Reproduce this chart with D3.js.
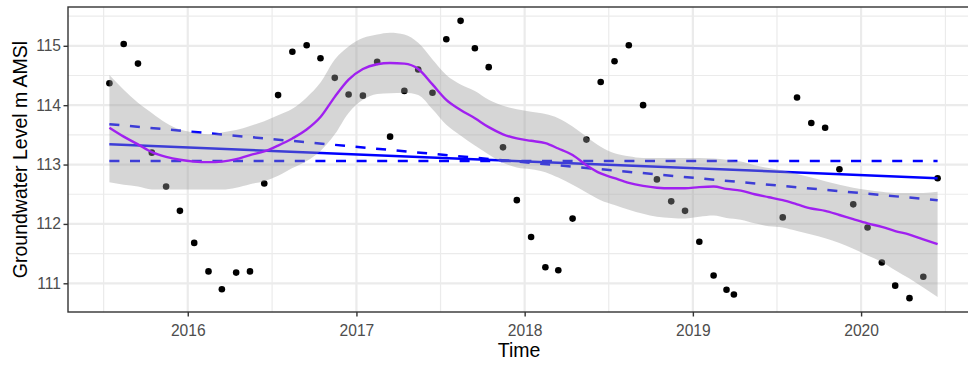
<!DOCTYPE html>
<html>
<head>
<meta charset="utf-8">
<script src="https://cdn.jsdelivr.net/npm/d3@7"></script>
<style>
  html, body { margin: 0; padding: 0; background: #fff; }
  svg { display: block; font-family: "Liberation Sans", Arial, sans-serif; }
</style>
</head>
<body>
<svg id="chart" width="968" height="365"></svg>
<script>
// observations (mid-month readings)
const obsDates = [
  '2015-07-15', '2015-08-15', '2015-09-15', '2015-10-15', '2015-11-15', '2015-12-15',
  '2016-01-15', '2016-02-15', '2016-03-15', '2016-04-15', '2016-05-15', '2016-06-15',
  '2016-07-15', '2016-08-15', '2016-09-15', '2016-10-15', '2016-11-15', '2016-12-15',
  '2017-01-15', '2017-02-15', '2017-03-15', '2017-04-15', '2017-05-15', '2017-06-15',
  '2017-07-15', '2017-08-15', '2017-09-15', '2017-10-15', '2017-11-15', '2017-12-15',
  '2018-01-15', '2018-02-15', '2018-03-15', '2018-04-15', '2018-05-15', '2018-06-15',
  '2018-07-15', '2018-08-15', '2018-09-15', '2018-10-15', '2018-11-15', '2018-12-15',
  '2019-01-15', '2019-02-15', '2019-03-15', '2019-03-31', '2019-07-15', '2019-08-15',
  '2019-09-15', '2019-10-15', '2019-11-15', '2019-12-15',
  '2020-01-15', '2020-02-15', '2020-03-15', '2020-04-15', '2020-05-15', '2020-06-15'
]
const obsLevels = [
  114.37, 115.03, 114.70, 113.20, 112.63, 112.22,
  111.68, 111.20, 110.90, 111.18, 111.20, 112.68,
  114.17, 114.90, 115.01, 114.79, 114.46, 114.18,
  114.16, 114.73, 113.47, 114.24, 114.60, 114.21,
  115.11, 115.42, 114.96, 114.64, 113.29, 112.40,
  111.78, 111.27, 111.22, 112.09, 113.42, 114.39,
  114.74, 115.01, 114.00, 112.75, 112.38, 112.22,
  111.70, 111.13, 110.89, 110.81, 112.11, 114.13,
  113.70, 113.62, 112.92, 112.33,
  111.94, 111.35, 110.96, 110.75, 111.11, 112.77
]

// loess smooth + confidence band, read at each month
const smoothMonths = [
  '2015-07', '2015-08', '2015-09', '2015-10', '2015-11', '2015-12',
  '2016-01', '2016-02', '2016-03', '2016-04', '2016-05', '2016-06',
  '2016-07', '2016-08', '2016-09', '2016-10', '2016-11', '2016-12',
  '2017-01', '2017-02', '2017-03', '2017-04', '2017-05', '2017-06',
  '2017-07', '2017-08', '2017-09', '2017-10', '2017-11', '2017-12',
  '2018-01', '2018-02', '2018-03', '2018-04', '2018-05', '2018-06',
  '2018-07', '2018-08', '2018-09', '2018-10', '2018-11', '2018-12',
  '2019-01', '2019-02', '2019-03', '2019-04', '2019-05', '2019-06',
  '2019-07', '2019-08', '2019-09', '2019-10', '2019-11', '2019-12',
  '2020-01', '2020-02', '2020-03', '2020-04', '2020-05', '2020-06'
]
const smoothFit = [
  113.62, 113.47, 113.34, 113.21, 113.13, 113.08,
  113.05, 113.04, 113.05, 113.09, 113.16, 113.22,
  113.32, 113.44, 113.59, 113.80, 114.14, 114.43,
  114.61, 114.69, 114.71, 114.70, 114.61, 114.35,
  114.09, 113.92, 113.78, 113.63, 113.51, 113.44,
  113.40, 113.36, 113.27, 113.16, 112.99, 112.85,
  112.77, 112.69, 112.64, 112.61, 112.60, 112.60,
  112.62, 112.63, 112.59, 112.56, 112.50, 112.45,
  112.40, 112.33, 112.26, 112.22, 112.15, 112.08,
  112.01, 111.95, 111.88, 111.82, 111.74, 111.66
]
const smoothUpper = [
  114.51, 114.26, 114.04, 113.87, 113.70, 113.59,
  113.54, 113.51, 113.54, 113.58, 113.65, 113.73,
  113.83, 113.94, 114.13, 114.38, 114.77, 114.99,
  115.13, 115.19, 115.22, 115.19, 115.05, 114.77,
  114.51, 114.35, 114.24, 114.09, 113.99, 113.93,
  113.89, 113.85, 113.78, 113.64, 113.47, 113.30,
  113.19, 113.14, 113.11, 113.11, 113.11, 113.11,
  113.11, 113.10, 113.08, 113.05, 112.99, 112.94,
  112.90, 112.84, 112.78, 112.72, 112.66, 112.61,
  112.57, 112.54, 112.52, 112.52, 112.52, 112.54
]
const smoothLower = [
  112.70, 112.66, 112.63, 112.58, 112.58, 112.58,
  112.58, 112.58, 112.58, 112.61, 112.67, 112.72,
  112.81, 112.94, 113.06, 113.23, 113.51, 113.87,
  114.09, 114.19, 114.20, 114.21, 114.17, 113.93,
  113.67, 113.49, 113.32, 113.17, 113.03, 112.95,
  112.92, 112.87, 112.78, 112.66, 112.53, 112.40,
  112.32, 112.24, 112.17, 112.12, 112.10, 112.09,
  112.12, 112.14, 112.10, 112.07, 112.01, 111.96,
  111.94, 111.88, 111.82, 111.76, 111.68, 111.58,
  111.47, 111.36, 111.22, 111.08, 110.93, 110.77
]

// linear trend and its slope bounds, at first and last observation
const trendDates = ['2015-07-15', '2020-06-15']
const trendFit = [113.34, 112.77]
const trendSlopeLow = [113.68, 112.40]
const trendSlopeHigh = [113.06, 113.06]

const xTickLabels = ['2016', '2017', '2018', '2019', '2020']
const yTicks = [111, 112, 113, 114, 115]

const parseDay = d3.timeParse('%Y-%m-%d')
const parseMonth = s => parseDay(s + '-15')

const points = obsDates.map((d, i) => ({ date: parseDay(d), value: obsLevels[i] }))
const smooth = smoothMonths.map((m, i) => ({
  date: parseMonth(m), fit: smoothFit[i], hi: smoothUpper[i], lo: smoothLower[i]
}))
const trend = trendDates.map((d, i) => ({
  date: parseDay(d), fit: trendFit[i], low: trendSlopeLow[i], high: trendSlopeHigh[i]
}))

const panel = { left: 68, right: 979, top: 7, bottom: 312 }

// ggplot-style 5% expansion
function expand([a, b], f = 0.05) {
  const pad = (b - a) * f
  return [a - pad, b + pad]
}

const tExt = d3.extent(points, d => +d.date)
const x = d3.scaleTime()
  .domain(expand(tExt).map(t => new Date(t)))
  .range([panel.left, panel.right])

const allY = obsLevels.concat(smoothUpper, smoothLower, trendSlopeLow, trendSlopeHigh)
const y = d3.scaleLinear()
  .domain(expand(d3.extent(allY)))
  .range([panel.bottom, panel.top])

const svg = d3.select('#chart')

svg.append('defs').append('clipPath').attr('id', 'clip')
  .append('rect')
  .attr('x', panel.left).attr('y', panel.top)
  .attr('width', panel.right - panel.left).attr('height', panel.bottom - panel.top)

// grid
const grid = svg.append('g').attr('clip-path', 'url(#clip)')
const majorX = xTickLabels.map(s => new Date(+s, 0, 1))
const allYears = d3.range(2015, 2022).map(yr => new Date(yr, 0, 1))
const minorX = allYears.slice(1).map((d, i) => new Date((+d + +allYears[i]) / 2))
const minorY = d3.range(110.5, 116, 1)

grid.selectAll('.minx').data(minorX).join('line')
  .attr('x1', d => x(d)).attr('x2', d => x(d))
  .attr('y1', panel.top).attr('y2', panel.bottom)
  .attr('stroke', '#ebebeb').attr('stroke-width', 1.2)
grid.selectAll('.miny').data(minorY).join('line')
  .attr('x1', panel.left).attr('x2', panel.right)
  .attr('y1', d => y(d)).attr('y2', d => y(d))
  .attr('stroke', '#ebebeb').attr('stroke-width', 1.2)
grid.selectAll('.majx').data(majorX).join('line')
  .attr('x1', d => x(d)).attr('x2', d => x(d))
  .attr('y1', panel.top).attr('y2', panel.bottom)
  .attr('stroke', '#ebebeb').attr('stroke-width', 2.2)
grid.selectAll('.majy').data(yTicks).join('line')
  .attr('x1', panel.left).attr('x2', panel.right)
  .attr('y1', d => y(d)).attr('y2', d => y(d))
  .attr('stroke', '#ebebeb').attr('stroke-width', 2.2)

const plot = svg.append('g').attr('clip-path', 'url(#clip)')

// observations
plot.append('g').selectAll('circle')
  .data(points)
  .join('circle')
  .attr('cx', d => x(d.date))
  .attr('cy', d => y(d.value))
  .attr('r', 3.3)
  .attr('fill', '#000')

// trend lines
const trendLine = key => d3.line().x(d => x(d.date)).y(d => y(d[key]))
plot.append('path').datum(trend)
  .attr('d', trendLine('fit'))
  .attr('fill', 'none').attr('stroke', 'blue').attr('stroke-width', 2.5)
for (const key of ['low', 'high']) {
  plot.append('path').datum(trend)
    .attr('d', trendLine(key))
    .attr('fill', 'none').attr('stroke', 'blue').attr('stroke-width', 2.5)
    .attr('stroke-dasharray', '10,10.6')
}

// confidence band
plot.append('path').datum(smooth)
  .attr('d', d3.area().curve(d3.curveMonotoneX)
    .x(d => x(d.date)).y0(d => y(d.lo)).y1(d => y(d.hi)))
  .attr('fill', '#999999').attr('fill-opacity', 0.4)

// loess line
plot.append('path').datum(smooth)
  .attr('d', d3.line().curve(d3.curveMonotoneX).x(d => x(d.date)).y(d => y(d.fit)))
  .attr('fill', 'none').attr('stroke', '#a020f0').attr('stroke-width', 2.4)

// panel border
svg.append('rect')
  .attr('x', panel.left).attr('y', panel.top)
  .attr('width', panel.right - panel.left).attr('height', panel.bottom - panel.top)
  .attr('fill', 'none').attr('stroke', '#333333').attr('stroke-width', 1.4)

// axes
const xAxis = svg.append('g')
  .attr('transform', `translate(0,${panel.bottom})`)
  .call(d3.axisBottom(x).tickValues(majorX).tickFormat(d3.timeFormat('%Y'))
    .tickSize(4.5).tickSizeOuter(0).tickPadding(8))
const yAxis = svg.append('g')
  .attr('transform', `translate(${panel.left},0)`)
  .call(d3.axisLeft(y).tickValues(yTicks).tickFormat(d3.format('d'))
    .tickSize(4.5).tickSizeOuter(0).tickPadding(2.5))

for (const ax of [xAxis, yAxis]) {
  ax.select('.domain').remove()
  ax.selectAll('.tick line').attr('stroke', '#333333').attr('stroke-width', 1.4)
  ax.selectAll('.tick text')
    .attr('fill', '#4d4d4d')
    .style('font-size', '15.6px')
    .style('font-family', '"Liberation Sans", Arial, sans-serif')
}

svg.append('text')
  .attr('x', (panel.left + 968) / 2 + 1)
  .attr('y', 356.5)
  .attr('text-anchor', 'middle')
  .style('font-size', '19.5px')
  .attr('fill', '#000')
  .text('Time')

svg.append('text')
  .attr('transform', `translate(26.5,${(panel.top + panel.bottom) / 2}) rotate(-90)`)
  .attr('text-anchor', 'middle')
  .style('font-size', '19.5px')
  .attr('fill', '#000')
  .text('Groundwater Level m AMSl')
</script>
</body>
</html>
